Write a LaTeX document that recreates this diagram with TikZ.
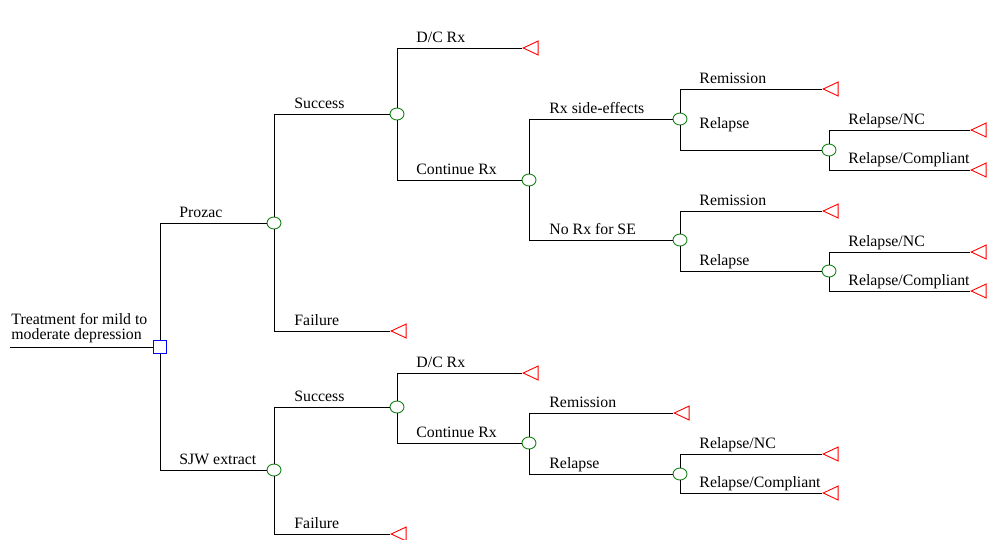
\documentclass[tikz,border=0pt]{standalone}
\usepackage{fontspec}
\setmainfont{Liberation Serif}
\usepackage{xcolor}
\usepackage{tikz}
\usetikzlibrary{shapes.geometric}

\definecolor{chancegreen}{RGB}{20,130,20}

\begin{document}
\begin{tikzpicture}[x=1pt,y=-1pt,
  line width=0.9pt,
  choice/.style={rectangle, draw=blue, fill=white, minimum size=13pt, inner sep=0pt},
  chance/.style={ellipse, draw=chancegreen, fill=white, minimum width=14pt, minimum height=12pt, inner sep=0pt},
  term/.style={isosceles triangle, isosceles triangle stretches, shape border rotate=180,
    draw=red, minimum width=14pt, minimum height=15pt, inner sep=0pt, anchor=apex},
  lbl/.style={anchor=base west, inner sep=0pt, font=\fontsize{15.8}{14.3}\selectfont}]
\useasboundingbox (0,0) rectangle (1008,539);

% Root decision
\coordinate (start) at (10,347);
\node[choice] (dec) at (160,347) {};
\node[lbl, anchor=south west, align=left] (title) at (11,343) {Treatment for mild to\\moderate depression};
\draw (start) -- (dec);

% Strategies
\node[chance] (prozac) at (274,223) {};
\node[chance] (sjw) at (274,470) {};
\draw (dec) |- (prozac);
\draw (dec) |- (sjw);
\node[lbl] (lprozac) at (179,217) {Prozac};
\node[lbl] (lsjw) at (179,464) {SJW extract};

% Prozac branch
\node[chance] (psucc) at (397,114) {};
\node[term] (pfail) at (390,331) {};
\draw (prozac) |- (psucc);
\draw (prozac) |- (pfail);
\node[lbl] (lpsucc) at (294,108) {Success};
\node[lbl] (lpfail) at (294,325) {Failure};

\node[term] (pdc) at (522,48) {};
\node[chance] (pcont) at (529,180) {};
\draw (psucc) |- (pdc);
\draw (psucc) |- (pcont);
\node[lbl] (lpdc) at (416,42) {D/C Rx};
\node[lbl] (lpcont) at (416,174) {Continue Rx};

\node[chance] (pse) at (680,119) {};
\node[chance] (pnose) at (680,240) {};
\draw (pcont) |- (pse);
\draw (pcont) |- (pnose);
\node[lbl] (lpse) at (549,113) {Rx side-effects};
\node[lbl] (lpnose) at (549,234) {No Rx for SE};

% side-effects outcomes
\node[term] (pserem) at (822,89) {};
\node[chance] (pserel) at (829,150) {};
\draw (pse) |- (pserem);
\draw (pse) |- (pserel);
\node[lbl] (lpserem) at (699,83) {Remission};
\node[lbl] (lpserel) at (699,128) {Relapse};

\node[term] (psenc) at (970,130) {};
\node[term] (psecomp) at (970,170) {};
\draw (pserel) |- (psenc);
\draw (pserel) |- (psecomp);
\node[lbl] (lpsenc) at (848,124) {Relapse/NC};
\node[lbl] (lpsecomp) at (848,163) {Relapse/Compliant};

% no side-effects outcomes
\node[term] (pnorem) at (822,211) {};
\node[chance] (pnorel) at (829,271) {};
\draw (pnose) |- (pnorem);
\draw (pnose) |- (pnorel);
\node[lbl] (lpnorem) at (699,205) {Remission};
\node[lbl] (lpnorel) at (699,265) {Relapse};

\node[term] (pnonc) at (970,252) {};
\node[term] (pnocomp) at (970,291) {};
\draw (pnorel) |- (pnonc);
\draw (pnorel) |- (pnocomp);
\node[lbl] (lpnonc) at (848,246) {Relapse/NC};
\node[lbl] (lpnocomp) at (848,285) {Relapse/Compliant};

% SJW branch
\node[chance] (ssucc) at (397,407) {};
\node[term] (sfail) at (390,534) {};
\draw (sjw) |- (ssucc);
\draw (sjw) |- (sfail);
\node[lbl] (lssucc) at (294,401) {Success};
\node[lbl] (lsfail) at (294,528) {Failure};

\node[term] (sdc) at (522,373) {};
\node[chance] (scont) at (529,443) {};
\draw (ssucc) |- (sdc);
\draw (ssucc) |- (scont);
\node[lbl] (lsdc) at (416,367) {D/C Rx};
\node[lbl] (lscont) at (416,437) {Continue Rx};

\node[term] (srem) at (673,413) {};
\node[chance] (srel) at (680,474) {};
\draw (scont) |- (srem);
\draw (scont) |- (srel);
\node[lbl] (lsrem) at (549,407) {Remission};
\node[lbl] (lsrel) at (549,468) {Relapse};

\node[term] (snc) at (822,454) {};
\node[term] (scomp) at (822,493) {};
\draw (srel) |- (snc);
\draw (srel) |- (scomp);
\node[lbl] (lsnc) at (699,448) {Relapse/NC};
\node[lbl] (lscomp) at (699,487) {Relapse/Compliant};

\end{tikzpicture}
\end{document}
